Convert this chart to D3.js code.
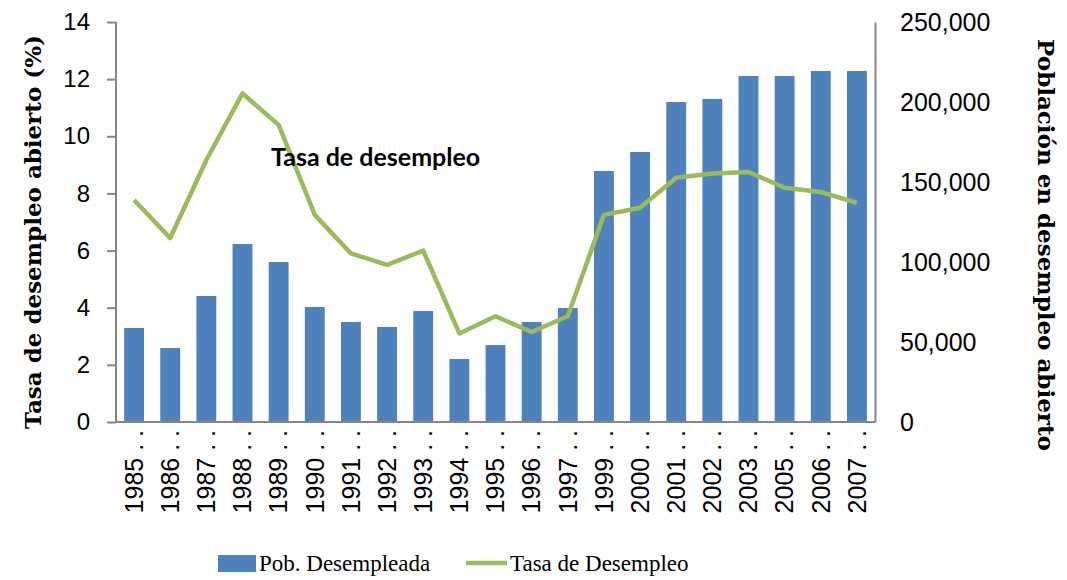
<!DOCTYPE html>
<html>
<head>
<meta charset="utf-8">
<script src="https://cdn.jsdelivr.net/npm/d3@7"></script>
<style>
  body { margin: 0; background: #fff; }
  .tick text { font-family: "Liberation Sans", Arial, sans-serif; fill: #000; }
</style>
</head>
<body>
<div id="chart"></div>
<script>
(function(){
  'use strict';

  var years = ['1985','1986','1987','1988','1989','1990','1991','1992','1993','1994','1995',
               '1996','1997','1999','2000','2001','2002','2003','2005','2006','2007'];
  var pobDesempleada = [58750, 46250, 78750, 111250, 100000, 71900, 62500, 59400, 69400, 39400, 48100,
                        62500, 71250, 156900, 168750, 200000, 201900, 216250, 216250, 219400, 219400];
  var tasaDesempleo = [7.77, 6.44, 9.17, 11.5, 10.4, 7.25, 5.9, 5.5, 6.0, 3.1, 3.7,
                       3.15, 3.7, 7.25, 7.5, 8.55, 8.7, 8.75, 8.2, 8.05, 7.67];
  var leftTicks = [0, 2, 4, 6, 8, 10, 12, 14];
  var rightTicks = [0, 50000, 100000, 150000, 200000, 250000];

  var w = 1067, h = 580,
      left = 116, right = 875, top = 22, bottom = 422,
      blue = '#4f81bd', green = '#9bbb59', axisCol = '#868686';

  var svg = d3.select('#chart').append('svg')
      .attr('width', w)
      .attr('height', h);

  var x = d3.scaleBand()
      .domain(years)
      .range([left, right])
      .paddingInner(0.45)
      .paddingOuter(0.225);

  var yL = d3.scaleLinear().domain([0, 14]).range([bottom, top]);
  var yR = d3.scaleLinear().domain([0, 250000]).range([bottom, top]);

  // bars
  svg.selectAll('.bar')
    .data(pobDesempleada)
    .enter()
    .append('rect')
    .attr('class', 'bar')
    .attr('x', function(d, i) { return x(years[i]); })
    .attr('y', function(d) { return yR(d); })
    .attr('width', x.bandwidth())
    .attr('height', function(d) { return bottom - yR(d); })
    .style('fill', blue);

  // line
  var line = d3.line()
      .x(function(d, i) { return x(years[i]) + x.bandwidth() / 2; })
      .y(function(d) { return yL(d); });

  svg.append('path')
    .datum(tasaDesempleo)
    .attr('d', line)
    .style('fill', 'none')
    .style('stroke', green)
    .style('stroke-width', 4.5)
    .style('stroke-linejoin', 'round');

  // left axis
  var yAxisL = d3.axisLeft(yL).tickValues(leftTicks).tickSize(9).tickPadding(17);
  var gL = svg.append('g')
    .attr('transform', 'translate(' + left + ',0)')
    .call(yAxisL);
  gL.select('.domain').attr('stroke', axisCol).attr('stroke-width', 2).attr('d', 'M0,' + top + 'V' + bottom);
  gL.selectAll('.tick line').attr('stroke', axisCol).attr('stroke-width', 2);
  gL.selectAll('.tick text').style('font-size', '24px');

  // right axis
  var yAxisR = d3.axisRight(yR).tickValues(rightTicks).tickSize(0).tickPadding(25)
      .tickFormat(d3.format(','));
  var gR = svg.append('g')
    .attr('transform', 'translate(' + right + ',0)')
    .call(yAxisR);
  gR.select('.domain').attr('stroke', axisCol).attr('stroke-width', 2);
  gR.selectAll('.tick text').style('font-size', '25px');

  // x axis
  var xAxis = d3.axisBottom(x).tickSize(0).tickPadding(0)
      .tickFormat(function(d) { return d + ' . .'; });
  var gX = svg.append('g')
    .attr('transform', 'translate(0,' + bottom + ')')
    .call(xAxis);
  gX.select('.domain').attr('stroke', axisCol).attr('stroke-width', 2).attr('d', 'M' + left + ',0H' + right);
  gX.selectAll('.tick text')
    .style('font-size', '25px')
    .attr('text-anchor', 'end')
    .attr('dy', '0.35em')
    .attr('transform', 'translate(0,8) rotate(-90)');

  // axis titles
  svg.append('text')
    .attr('transform', 'translate(33,' + 232 + ') rotate(-90)')
    .attr('text-anchor', 'middle')
    .attr('dy', '0.35em')
    .style('font-family', '"DejaVu Serif", serif')
    .style('font-weight', 'bold')
    .style('font-size', '23px')
    .text('Tasa de desempleo abierto (%)');

  svg.append('text')
    .attr('transform', 'translate(1046,' + 245 + ') rotate(90)')
    .attr('text-anchor', 'middle')
    .attr('dy', '0.35em')
    .style('font-family', '"DejaVu Serif", serif')
    .style('font-weight', 'bold')
    .style('font-size', '23px')
    .text('Población en desempleo abierto');

  // annotation
  svg.append('text')
    .attr('x', 271)
    .attr('y', 166)
    .style('font-family', 'Lato, sans-serif')
    .style('font-weight', 'bold')
    .style('font-size', '25px')
    .style('fill', '#000')
    .text('Tasa de desempleo');

  // legend
  var lg = svg.append('g');
  lg.append('rect')
    .attr('x', 218).attr('y', 555).attr('width', 38).attr('height', 17)
    .style('fill', blue);
  lg.append('text')
    .attr('x', 259).attr('y', 571)
    .style('font-family', '"Liberation Serif", serif')
    .style('font-size', '23px')
    .text('Pob. Desempleada');
  lg.append('line')
    .attr('x1', 466).attr('x2', 507).attr('y1', 563).attr('y2', 563)
    .style('stroke', green).style('stroke-width', 4.5);
  lg.append('text')
    .attr('x', 510).attr('y', 571)
    .style('font-family', '"Liberation Serif", serif')
    .style('font-size', '23px')
    .text('Tasa de Desempleo');
}());
</script>
</body>
</html>
